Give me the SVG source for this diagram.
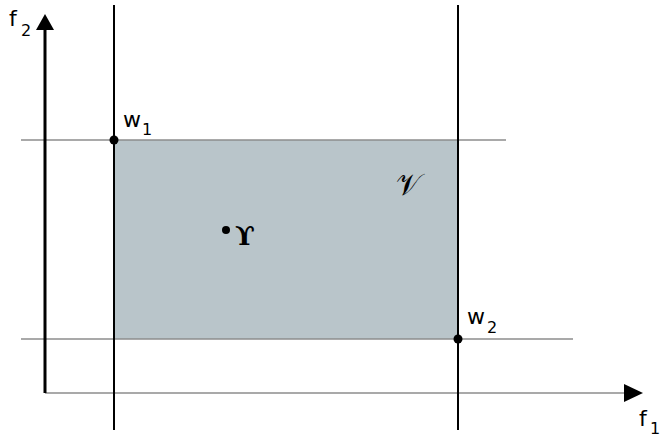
<svg xmlns="http://www.w3.org/2000/svg" width="662" height="438" viewBox="0 0 662 438">
<style>
.t{font-family:"DejaVu Sans",sans-serif;fill:#000}
.main{font-size:22px}
.sub{font-size:16px}
.grid{stroke:#8c8c8c;stroke-width:1.6;fill:none}
.vline{stroke:#000;stroke-width:2;fill:none}
</style>
<rect width="662" height="438" fill="#fff"/>
<g id="region">
<rect x="114" y="140" width="344" height="199" fill="#b9c5ca"/>
</g>
<g id="connectors">
<line class="grid" x1="21" y1="140" x2="506" y2="140"/>
<line class="grid" x1="21" y1="339" x2="573" y2="339"/>
<line class="grid" x1="45" y1="393" x2="626" y2="393"/>
<line class="vline" x1="114" y1="5" x2="114" y2="430"/>
<line class="vline" x1="458" y1="5" x2="458" y2="430"/>
<line x1="45" y1="393" x2="45" y2="26" stroke="#000" stroke-width="3"/>
<polygon points="45,14 36,30 54,30" fill="#000"/>
<polygon points="643,393 624,384 624,402" fill="#000"/>
</g>
<g id="axis-f2"><text class="t main" x="9" y="26">f</text><text class="t sub" x="21" y="36">2</text></g>
<g id="axis-f1"><text class="t main" x="639" y="426">f</text><text class="t sub" x="650" y="434">1</text></g>
<g id="w1"><circle cx="114" cy="140" r="4.5" fill="#000"/><text class="t main" x="123" y="127">w</text><text class="t sub" x="142" y="135">1</text></g>
<g id="w2"><circle cx="458" cy="339" r="4.5" fill="#000"/><text class="t main" x="467" y="324">w</text><text class="t sub" x="487" y="333">2</text></g>
<g id="gamma"><circle cx="226" cy="230" r="4" fill="#000"/><text x="235" y="245" font-family="'DejaVu Serif',serif" font-weight="bold" font-size="26">ϒ</text></g>
<g id="V"><text x="396" y="195" font-family="'DejaVu Serif','Liberation Serif',serif" font-size="30">𝒱</text></g>
</svg>
